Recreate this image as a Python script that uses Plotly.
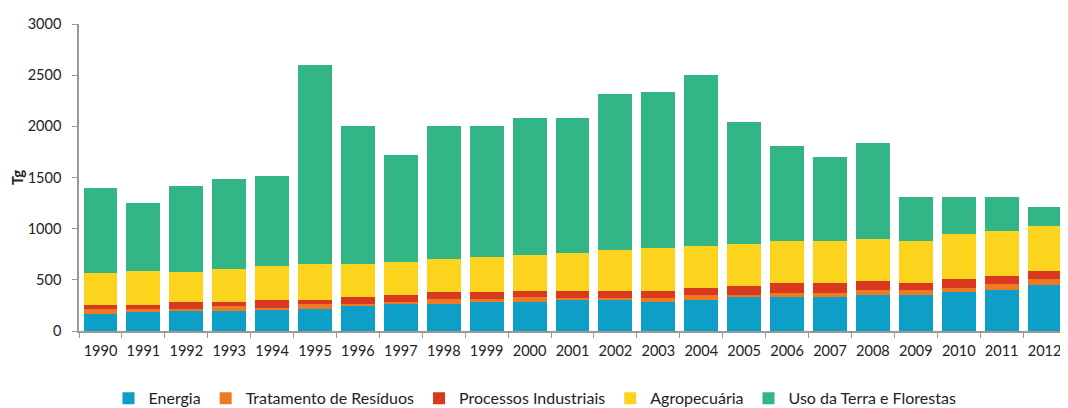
import plotly.graph_objects as go

years = [str(y) for y in range(1990, 2013)]
energia = [170, 195, 196, 196, 212, 212, 242, 261, 261, 288, 288, 302, 302, 279, 299, 328, 328, 328, 348, 348, 377, 405, 447]
residuos = [43, 18, 15, 46, 17, 53, 26, 20, 53, 22, 45, 20, 20, 46, 52, 27, 43, 43, 56, 56, 43, 55, 59]
industriais = [45, 45, 73, 42, 75, 39, 65, 69, 65, 69, 62, 72, 72, 69, 69, 81, 95, 95, 81, 62, 92, 78, 81]
agro = [305, 330, 297, 324, 327, 350, 321, 326, 320, 340, 350, 369, 395, 415, 415, 419, 415, 415, 415, 415, 437, 440, 437]
uso_terra = [832, 667, 839, 882, 879, 1941, 1346, 1044, 1301, 1281, 1340, 1322, 1531, 1531, 1665, 1185, 929, 819, 935, 424, 356, 327, 183]

series = [
    ("Energia", energia, "#0E9FC9"),
    ("Tratamento de Resíduos", residuos, "#F07A22"),
    ("Processos Industriais", industriais, "#D8391F"),
    ("Agropecuária", agro, "#FCD41E"),
    ("Uso da Terra e Florestas", uso_terra, "#33B686"),
]

fig = go.Figure()
for name, vals, color in series:
    fig.add_trace(go.Bar(x=years, y=vals, name=name, marker=dict(color=color, line=dict(width=0))))

fig.update_layout(
    barmode="stack",
    bargap=0.21,
    width=1068,
    height=408,
    margin=dict(l=71, r=10, t=16, b=85, autoexpand=False),
    plot_bgcolor="white",
    paper_bgcolor="white",
    font=dict(family="Lato", size=14, color="#222"),
    legend=dict(orientation="h", x=0.462, xanchor="center", y=-0.219, yanchor="middle",
                font=dict(size=16, family="Lato"), itemwidth=30, traceorder="normal"),
)
fig.update_xaxes(
    type="category", showline=True, linecolor="#999", linewidth=1.5, automargin=False,
    ticks="outside", tickson="boundaries", ticklen=5, tickcolor="#999",
    tickangle=0, ticklabelstandoff=6, tickfont=dict(size=14.5, color="#222"), showgrid=False,
)
fig.update_yaxes(
    range=[0, 3000], dtick=500, showline=True, linecolor="#999", linewidth=1.5, automargin=False,
    ticks="outside", ticklen=5, tickcolor="#999", showgrid=False, zeroline=False,
    ticklabelstandoff=8, tickfont=dict(size=14.5, color="#222"),
    title=dict(text="<b>Tg</b>", font=dict(size=15, color="#222"), standoff=12),
)

fig.write_html("out.html")
